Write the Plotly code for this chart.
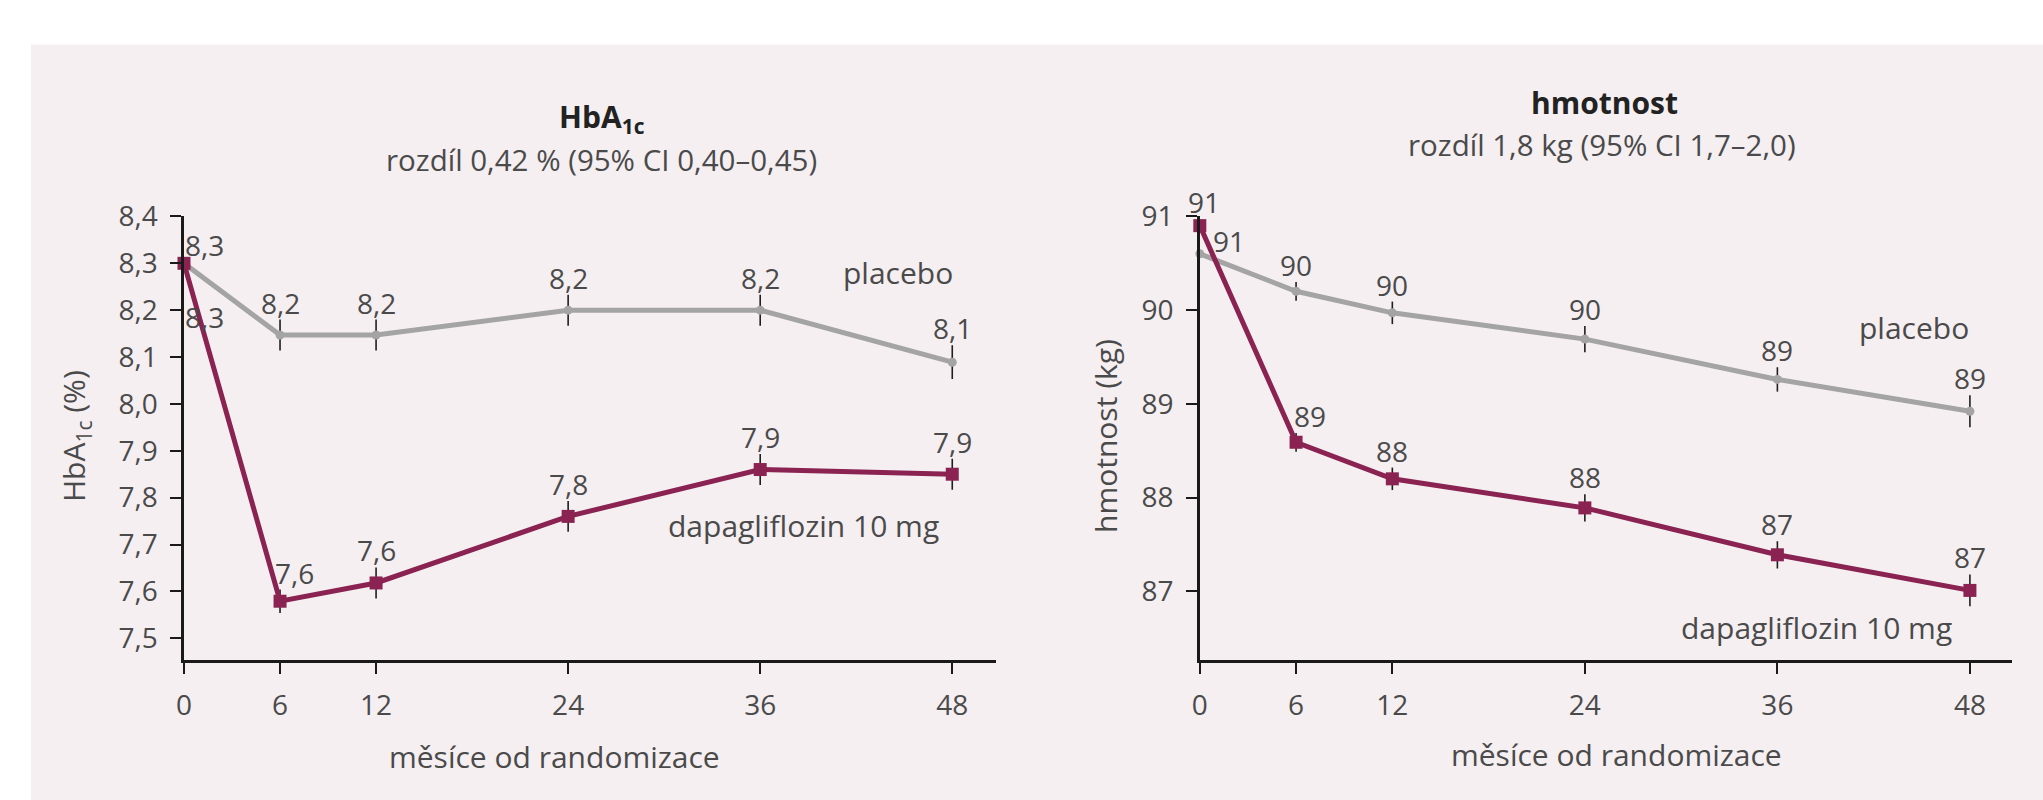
import plotly.graph_objects as go

# months since randomisation
months = [0, 6, 12, 24, 36, 48]

# HbA1c (%)
hba_placebo = [8.30, 8.147, 8.147, 8.20, 8.20, 8.089]
hba_placebo_err = [0, 0.033, 0.033, 0.033, 0.033, 0.036]
hba_placebo_text = ["8,3", "8,2", "8,2", "8,2", "8,2", "8,1"]
hba_dapa = [8.30, 7.579, 7.618, 7.760, 7.860, 7.850]
hba_dapa_err = [0, 0.025, 0.033, 0.033, 0.033, 0.033]
hba_dapa_text = ["8,3", "7,6", "7,6", "7,8", "7,9", "7,9"]

# body weight (kg)
wt_placebo = [90.60, 90.20, 89.97, 89.69, 89.26, 88.92]
wt_placebo_err = [0, 0.10, 0.12, 0.14, 0.13, 0.17]
wt_placebo_text = ["91", "90", "90", "90", "89", "89"]
wt_dapa = [90.90, 88.59, 88.20, 87.89, 87.39, 87.01]
wt_dapa_err = [0, 0.10, 0.12, 0.145, 0.145, 0.17]
wt_dapa_text = ["91", "89", "88", "88", "87", "87"]

W, H = 2043, 800
GREY = "#a4a4a4"
MAROON = "#8a2351"
FONT = "Open Sans"
TEXT = "#4a4a4a"


def px(x):
    return x / W


def py(y):
    return 1 - y / H


def series(x, y, err, color, xa, ya, symbol, size):
    return go.Scatter(
        x=x, y=y, mode="lines+markers", xaxis=xa, yaxis=ya, cliponaxis=False,
        line=dict(color=color, width=5),
        marker=dict(symbol=symbol, size=size, color=color),
        error_y=dict(type="data", array=err, color="#1e1e1e", thickness=1.6, width=0),
        showlegend=False, hoverinfo="x+y",
    )


label_font = dict(family=FONT, size=28, color=TEXT)


def point_labels(xref, yref, ys, errs, texts, first_shift, shift6=0):
    out = []
    for i, (m, v, e, t) in enumerate(zip(months, ys, errs, texts)):
        if i == 0:
            dx, dy = first_shift
            yy = v
        else:
            dx = shift6 if i == 1 else 0
            dy = 17
            yy = v + e
        out.append(dict(x=m, y=yy, xref=xref, yref=yref, text=t, showarrow=False,
                        xshift=dx, yshift=dy, font=label_font))
    return out


fig = go.Figure()
fig.add_trace(series(months, hba_placebo, hba_placebo_err, GREY, "x", "y", "circle", 9))
fig.add_trace(series(months, hba_dapa, hba_dapa_err, MAROON, "x", "y", "square", 13))
fig.add_trace(series(months, wt_placebo, wt_placebo_err, GREY, "x2", "y2", "circle", 9))
fig.add_trace(series(months, wt_dapa, wt_dapa_err, MAROON, "x2", "y2", "square", 13))

annotations = []
annotations += point_labels("x", "y", hba_placebo, hba_placebo_err, hba_placebo_text, (20, 18))
annotations += point_labels("x", "y", hba_dapa, hba_dapa_err, hba_dapa_text, (20, -54), shift6=14)
annotations += point_labels("x2", "y2", wt_placebo, wt_placebo_err, wt_placebo_text, (29, 13))
annotations += point_labels("x2", "y2", wt_dapa, wt_dapa_err, wt_dapa_text, (4, 24), shift6=14)

name_font = dict(family=FONT, size=30, color=TEXT)
annotations += [
    dict(x=44.6, y=8.281, xref="x", yref="y", text="placebo", showarrow=False, font=name_font),
    dict(x=38.7, y=7.741, xref="x", yref="y", text="dapagliflozin 10 mg", showarrow=False, font=name_font),
    dict(x=44.5, y=89.816, xref="x2", yref="y2", text="placebo", showarrow=False, font=name_font),
    dict(x=38.45, y=86.616, xref="x2", yref="y2", text="dapagliflozin 10 mg", showarrow=False, font=name_font),
]

# titles and axis titles
title_font = dict(family=FONT, size=30, color="#222222")
sub_font = dict(family=FONT, size=29.5, color=TEXT)
axis_font = dict(family=FONT, size=30, color=TEXT)
paper = dict(xref="paper", yref="paper", showarrow=False, xanchor="center", yanchor="middle")
annotations += [
    dict(x=px(596), y=py(101), text="<b>HbA<sub>1c</sub></b>", font=title_font, **paper),
    dict(x=px(596), y=py(143), text="rozdíl 0,42 % (95% CI 0,40–0,45)", font=sub_font, **paper),
    dict(x=px(1603), y=py(85), text="<b>hmotnost</b>", font=title_font, **paper),
    dict(x=px(1600), y=py(128), text="rozdíl 1,8 kg (95% CI 1,7–2,0)", font=sub_font, **paper),
    dict(x=px(549), y=py(755), text="měsíce od randomizace", font=axis_font, **paper),
    dict(x=px(1615), y=py(753), text="měsíce od randomizace", font=axis_font, **paper),
    dict(x=px(68), y=py(427), text="HbA<sub>1c</sub> (%)", textangle=-90, font=axis_font, **paper),
    dict(x=px(1102), y=py(427), text="hmotnost (kg)", textangle=-90, font=axis_font, **paper),
]

axis_common = dict(
    showline=True, linecolor="#1a1a1a", linewidth=2.5,
    ticks="outside", ticklen=11, tickwidth=2, tickcolor="#1a1a1a",
    showgrid=False, zeroline=False,
    tickfont=dict(family=FONT, size=28, color=TEXT),
    ticklabelstandoff=7, fixedrange=True,
)
ydom = [py(656.7), py(201)]

fig.update_layout(
    width=W, height=H,
    margin=dict(l=0, r=0, t=0, b=0),
    paper_bgcolor="white",
    plot_bgcolor="rgba(0,0,0,0)",
    separators=", ",
    font=dict(family=FONT, color=TEXT),
    shapes=[dict(type="rect", xref="paper", yref="paper", x0=px(23), x1=1, y0=0, y1=py(25),
                 fillcolor="#f5eff2", line=dict(width=0), layer="below")],
    xaxis=dict(domain=[px(176.7), px(992)], range=[0, 50.74], tickvals=months, anchor="y", **axis_common),
    yaxis=dict(domain=ydom, range=[7.453, 8.401], tick0=7.5, dtick=0.1, tickformat=".1f", anchor="x", **axis_common),
    xaxis2=dict(domain=[px(1196.5), px(2011.5)], range=[0, 50.6], tickvals=months, anchor="y2", **axis_common),
    yaxis2=dict(domain=ydom, range=[86.265, 91.003], tick0=87, dtick=1, anchor="x2", **axis_common),
    annotations=annotations,
)

# page margin off so the figure sits flush with the window
fig.write_html(
    "out.html",
    config={"displayModeBar": False},
    post_script="document.body.style.margin='0';document.body.style.overflow='hidden';",
)
